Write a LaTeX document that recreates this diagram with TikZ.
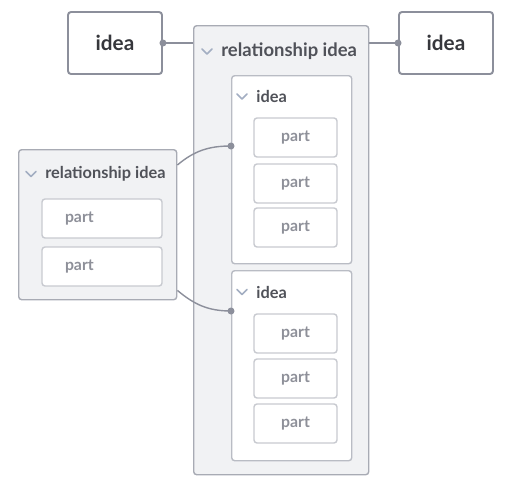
\documentclass[tikz,border=0pt]{standalone}
\usepackage{fontspec}
\setmainfont{Lato}
\usepackage{tikz}
\usetikzlibrary{calc,positioning}
\definecolor{ink}{HTML}{36373C}
\definecolor{title}{HTML}{505259}
\definecolor{muted}{HTML}{8E9099}
\definecolor{edge}{HTML}{8C8F9B}
\definecolor{grpline}{HTML}{A8ABB4}
\definecolor{grpfill}{HTML}{F1F2F4}
\definecolor{boxline}{HTML}{B9BCC4}
\definecolor{partline}{HTML}{C8CAD0}
\definecolor{chevblue}{HTML}{A3AEC2}
\tikzset{
  topidea/.style={draw=edge,fill=white,rounded corners=.6mm,line width=1.1pt,
    minimum width=1.88cm,minimum height=1.24cm,font=\bfseries\fontsize{11.8}{13}\selectfont,text=ink},
  group/.style={draw=grpline,fill=grpfill,rounded corners=.6mm,line width=.8pt,anchor=north west},
  ideabox/.style={draw=boxline,fill=white,rounded corners=.6mm,line width=.8pt,anchor=north west,
    minimum width=2.4cm},
  part/.style={draw=partline,fill=white,rounded corners=.6mm,line width=.8pt,
    minimum height=.78cm,font=\bfseries\fontsize{9}{11}\selectfont,text=muted},
  widepart/.style={part,inner xsep=.46cm,text width=1.48cm,align=left},
  ttl/.style={anchor=west,inner sep=0pt,font=\bfseries\fontsize{9.3}{11}\selectfont,text=title},
  bigttl/.style={ttl,font=\bfseries\fontsize{10.5}{12}\selectfont},
  chev/.style={draw=chevblue,line width=1pt,line cap=round,line join=round},
  link/.style={draw=edge,line width=.8pt},
  dot/.style={circle,fill=edge,inner sep=0pt,minimum size=1.4mm},
}
\newcommand{\chevron}[1]{\draw[chev] ($(#1.west)+(-.38,.05)$)--($(#1.west)+(-.28,-.05)$)--($(#1.west)+(-.18,.05)$);}

\begin{document}
\begin{tikzpicture}[x=1cm,y=1cm]
  \useasboundingbox (0,0) rectangle (10.18,-9.78);
  % top ideas and the relationship that holds them
  \node[topidea] (lidea) at (2.30,-.86) {idea};
  \node[topidea] (ridea) at (8.92,-.86) {idea};
  \node[group,minimum width=3.5cm,minimum height=8.98cm] (rel) at (3.86,-.50) {};
  \node[bigttl] (relttl) at ($(rel.north west)+(.56,-.53)$) {relationship idea};
  \chevron{relttl}

  \node[ideabox,minimum height=3.76cm] (ideaA) at (4.62,-1.50) {};
  \node[ttl] (ideaAttl) at ($(ideaA.north west)+(.50,-.43)$) {idea};
  \chevron{ideaAttl}
  \node[part,minimum width=1.66cm] (pA1) at (5.91,-2.75) {part};
  \node[part,minimum width=1.66cm] (pA2) at (5.91,-3.67) {part};
  \node[part,minimum width=1.66cm] (pA3) at (5.91,-4.55) {part};

  \node[ideabox,minimum height=3.8cm] (ideaB) at (4.62,-5.40) {};
  \node[ttl] (ideaBttl) at ($(ideaB.north west)+(.50,-.44)$) {idea};
  \chevron{ideaBttl}
  \node[part,minimum width=1.66cm] (pB1) at (5.91,-6.67) {part};
  \node[part,minimum width=1.66cm] (pB2) at (5.91,-7.57) {part};
  \node[part,minimum width=1.66cm] (pB3) at (5.91,-8.47) {part};

  % the second relationship on the left
  \node[group,minimum width=3.16cm,minimum height=3.0cm] (lrel) at (.36,-2.98) {};
  \node[ttl] (lrelttl) at ($(lrel.north west)+(.54,-.50)$) {relationship idea};
  \chevron{lrelttl}
  \node[widepart] (lp1) at (2.04,-4.37) {part};
  \node[widepart] (lp2) at (2.04,-5.33) {part};

  % connectors
  \draw[link] (lidea.east) -- (lidea.east -| rel.west);
  \draw[link] (ridea.west) -- (ridea.west -| rel.east);
  \coordinate (inA) at ($(ideaA.north west)+(0,-1.42)$);
  \coordinate (inB) at ($(ideaB.north west)+(0,-.82)$);
  \draw[link] ($(lrel.north east)+(0,-.32)$) to[out=40,in=180] (inA);
  \draw[link] ($(lrel.south east)+(0,.20)$) to[out=-40,in=180] (inB);
  \node[dot] (dl) at (lidea.east) {};
  \node[dot] (dr) at (ridea.west) {};
  \node[dot] (dA) at (inA) {};
  \node[dot] (dB) at (inB) {};
\end{tikzpicture}
\end{document}
